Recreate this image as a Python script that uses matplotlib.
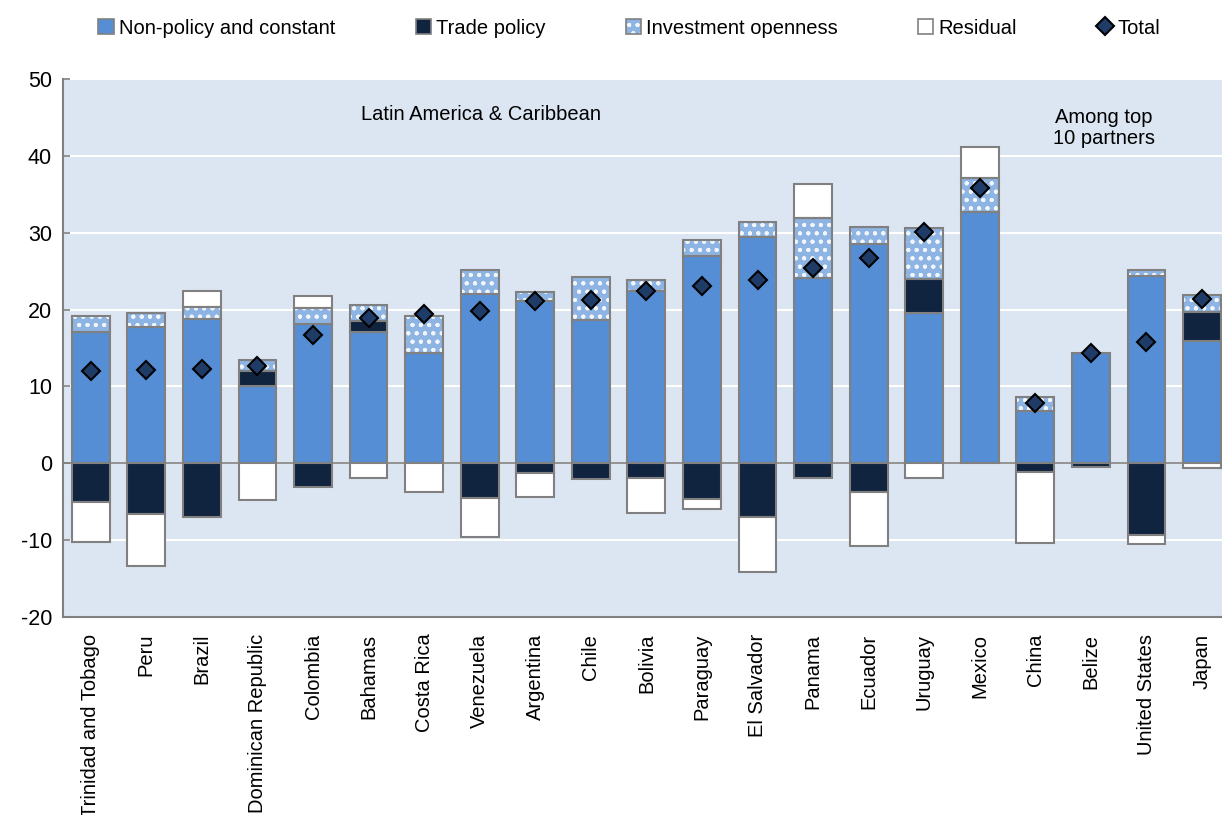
import matplotlib
matplotlib.use("Agg")
import matplotlib.pyplot as plt
from matplotlib.patches import Patch
from matplotlib.lines import Line2D
import numpy as np

plt.rcParams['font.family'] = ['Liberation Sans', 'DejaVu Sans']
plt.rcParams['axes.unicode_minus'] = False
plt.rcParams['hatch.linewidth'] = 0.6

countries = ["Trinidad and Tobago", "Peru", "Brazil", "Dominican Republic", "Colombia",
             "Bahamas", "Costa Rica", "Venezuela", "Argentina", "Chile", "Bolivia",
             "Paraguay", "El Salvador", "Panama", "Ecuador", "Uruguay", "Mexico",
             "China", "Belize", "United States", "Japan"]

non_policy = [17.1, 17.75, 18.8, 10.0, 18.1, 17.1, 14.4, 22.0, 21.1, 18.6, 22.4,
              26.95, 29.5, 24.1, 28.5, 19.6, 32.65, 6.8, 14.4, 24.35, 15.9]
trade_policy = [-5.0, -6.55, -7.0, 1.95, -3.1, 1.4, 0.0, -4.55, -1.25, -2.1, -1.95,
                -4.7, -7.0, -1.95, -3.7, 4.4, 0.0, -1.15, -0.5, -9.3, 3.8]
investment = [2.1, 1.85, 1.55, 1.55, 2.1, 2.15, 4.8, 3.2, 1.2, 5.7, 1.5,
              2.05, 1.9, 7.85, 2.3, 6.55, 4.5, 1.8, 0.0, 0.85, 2.2]
residual = [-5.2, -6.75, 2.05, -4.8, 1.6, -1.95, -3.7, -5.05, -3.15, 0.0, -4.55,
            -1.25, -7.2, 4.45, -7.0, -1.95, 3.95, -9.25, 0.0, -1.15, -0.6]
total = [12.0, 12.2, 12.3, 12.7, 16.7, 18.9, 19.4, 19.8, 21.1, 21.2, 22.4,
         23.1, 23.9, 25.4, 26.65, 30.1, 35.85, 7.8, 14.3, 15.8, 21.35]

c_np = '#558ED5'
c_trade = '#10243F'
c_io = '#8DB4E2'
c_res = '#FFFFFF'
c_edge = '#808080'
c_bg = '#DCE6F2'
c_tot = '#1F3C68'
c_dot = (1, 1, 1, 0.85)

W, H = 1222, 815
fig = plt.figure(figsize=(W / 100, H / 100), dpi=100)
ax = fig.add_axes([63 / W, 1 - 617 / H, (W - 63) / W, (617 - 79) / H])
ax.set_facecolor(c_bg)

x = np.arange(len(countries))
bw = 0.68
pos_bottom = np.zeros(len(x))
neg_bottom = np.zeros(len(x))

series = [(non_policy, c_np, None), (trade_policy, c_trade, None),
          (investment, c_io, 'oo..'), (residual, c_res, None)]
for vals, col, hatch in series:
    v = np.array(vals, dtype=float)
    bottoms = np.where(v >= 0, pos_bottom, neg_bottom)
    m = v != 0
    if hatch:
        ax.bar(x[m], v[m], bw, bottom=bottoms[m], color=col, edgecolor=c_dot,
               hatch=hatch, linewidth=0, zorder=2)
        ax.bar(x[m], v[m], bw, bottom=bottoms[m], facecolor='none',
               edgecolor=c_edge, linewidth=1.5, zorder=2.1)
    else:
        ax.bar(x[m], v[m], bw, bottom=bottoms[m], color=col,
               edgecolor=c_edge, linewidth=1.5, zorder=2)
    pos_bottom = pos_bottom + np.where(v > 0, v, 0)
    neg_bottom = neg_bottom + np.where(v < 0, v, 0)

ax.plot(x, total, linestyle='none', marker='D', markersize=9,
        markerfacecolor=c_tot, markeredgecolor='black', markeredgewidth=1.5, zorder=4)

ax.axhline(0, color=c_edge, linewidth=1.2, zorder=1.5)

ax.set_ylim(-20, 50)
ax.set_yticks(np.arange(-20, 51, 10))
ax.set_xlim(-0.5, 20.36)
ax.set_xticks(x)
ax.set_xticklabels(countries, rotation=90, fontsize=14.5, va='top')
ax.tick_params(axis='x', length=0, pad=12)
ax.tick_params(axis='y', direction='in', length=5, color=c_edge, width=1.2,
               labelsize=15.5, pad=8)
ax.yaxis.grid(True, color='white', linewidth=1.5, zorder=0)
ax.set_axisbelow(True)
for s in ['top', 'right']:
    ax.spines[s].set_visible(False)
for s in ['left', 'bottom']:
    ax.spines[s].set_color(c_edge)
    ax.spines[s].set_linewidth(1.5)

ax.text(7.02, 45.4, 'Latin America & Caribbean', ha='center', va='center', fontsize=14.5)
ax.text(18.24, 43.6, 'Among top\n10 partners', ha='center', va='center', fontsize=14.5,
        linespacing=1.15)

handles = [
    Patch(facecolor=c_np, edgecolor=c_edge, linewidth=1.2),
    Patch(facecolor=c_trade, edgecolor=c_edge, linewidth=1.2),
    (Patch(facecolor=c_io, edgecolor=c_dot, hatch='oo..', linewidth=0),
     Patch(facecolor='none', edgecolor=c_edge, linewidth=1.2)),
    Patch(facecolor=c_res, edgecolor=c_edge, linewidth=1.2),
    Line2D([], [], linestyle='none', marker='D', markersize=9,
           markerfacecolor=c_tot, markeredgecolor='black', markeredgewidth=1.5),
]
labels = ['Non-policy and constant', 'Trade policy', 'Investment openness',
          'Residual', 'Total']
fig.legend(handles, labels, loc='center', bbox_to_anchor=(0.515, 1 - 28 / H),
           ncol=5, frameon=False, fontsize=14.5, handlelength=0.75,
           handleheight=0.75, handletextpad=0.25, columnspacing=4.0,
           borderaxespad=0)

fig.savefig('out.png', dpi=100)
